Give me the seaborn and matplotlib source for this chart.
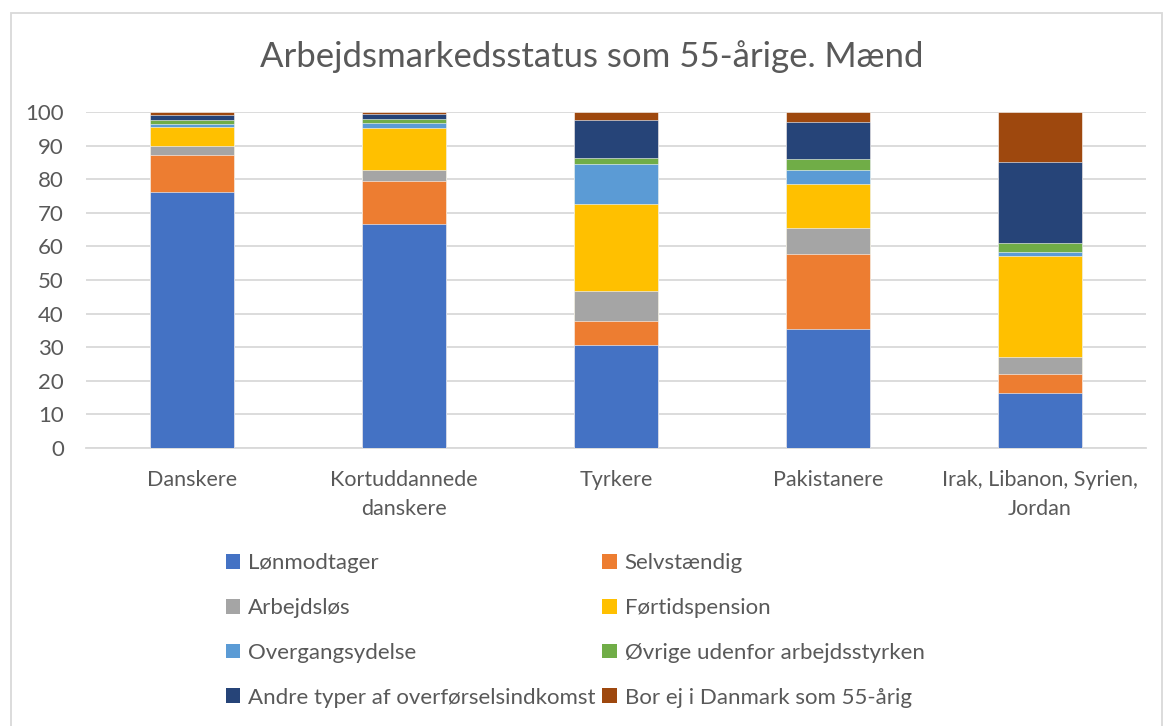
import matplotlib
matplotlib.use("Agg")
import matplotlib.pyplot as plt
import seaborn as sns
import pandas as pd
import numpy as np
from matplotlib.patches import Rectangle, Patch

categories = ["Danskere", "Kortuddannede\ndanskere", "Tyrkere", "Pakistanere",
              "Irak, Libanon, Syrien,\nJordan"]
series_names = ["Lønmodtager", "Selvstændig", "Arbejdsløs", "Førtidspension",
                "Overgangsydelse", "Øvrige udenfor arbejdsstyrken",
                "Andre typer af overførselsindkomst", "Bor ej i Danmark som 55-årig"]
lonmodtager = [76.2, 66.7, 30.8, 35.4, 16.3]
selvstaendig = [11.1, 12.8, 7.0, 22.2, 5.8]
arbejdslos = [2.7, 3.1, 9.0, 7.8, 5.0]
fortidspension = [5.6, 12.7, 25.9, 13.1, 30.0]
overgangsydelse = [0.8, 1.3, 11.7, 4.2, 1.3]
ovrige = [1.1, 1.2, 2.0, 3.3, 2.7]
andre = [1.5, 1.7, 11.3, 11.1, 24.0]
bor_ej = [1.0, 0.5, 2.3, 2.9, 14.9]
colors = ["#4472C4", "#ED7D31", "#A5A5A5", "#FFC000", "#5B9BD5", "#70AD47",
          "#264478", "#9E480E"]

values = [lonmodtager, selvstaendig, arbejdslos, fortidspension, overgangsydelse,
          ovrige, andre, bor_ej]

sns.set_theme(style="white")
plt.rcParams["font.family"] = ["Lato", "DejaVu Sans"]
txt = "#595959"

fig = plt.figure(figsize=(11.65, 7.26), dpi=100)
ax = fig.add_axes([86/1165, 1-448/726, (1146-86)/1165, (448-112)/726])

cum = np.cumsum(np.array(values), axis=0)
for i in range(len(values) - 1, -1, -1):
    df = pd.DataFrame({"cat": categories, "val": cum[i]})
    sns.barplot(data=df, x="cat", y="val", color=colors[i], saturation=1,
                width=0.4, ax=ax, edgecolor="white", linewidth=0.4, zorder=3)

ax.set_ylim(0, 100)
ax.set_xlim(-0.5, 4.5)
ax.set_yticks(range(0, 101, 10))
ax.grid(axis="y", color="#D9D9D9", linewidth=1.3, zorder=0)
ax.set_axisbelow(True)
for s in ["top", "right", "left"]:
    ax.spines[s].set_visible(False)
ax.spines["bottom"].set_color("#D9D9D9")
ax.spines["bottom"].set_linewidth(1.3)
ax.set_xlabel("")
ax.set_ylabel("")
ax.tick_params(axis="x", length=0, pad=16, labelsize=15.5, labelcolor=txt)
ax.tick_params(axis="y", length=0, pad=16, labelsize=16, labelcolor=txt)
for lab in ax.get_xticklabels():
    lab.set_linespacing(1.55)

fig.text(592/1165, 1-57/726, "Arbejdsmarkedsstatus som 55-årige. Mænd",
         ha="center", va="center", fontsize=25, color=txt)

handles = [Patch(facecolor=c, edgecolor="none") for c in colors]
order = [0, 2, 4, 6, 1, 3, 5, 7]
leg = fig.legend([handles[k] for k in order], [series_names[k] for k in order],
                 ncol=2, loc="upper left", bbox_to_anchor=(226/1165, 1-553/726),
                 frameon=False, fontsize=16, handlelength=0.65, handleheight=0.65,
                 handletextpad=0.35, columnspacing=0.3, labelspacing=1.12,
                 borderpad=0, borderaxespad=0, labelcolor=txt)

fig.patches.append(Rectangle((11/1165, -0.05), (1162-11)/1165, 1.05-13/726,
                             transform=fig.transFigure, fill=False,
                             edgecolor="#D9D9D9", linewidth=1.3))

fig.savefig("out.png", dpi=100)
